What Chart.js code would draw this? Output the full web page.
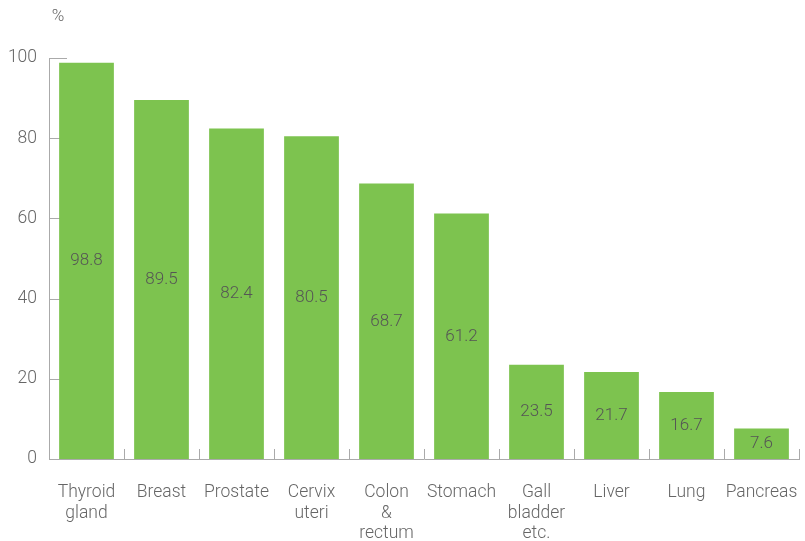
<!DOCTYPE html>
<html>
<head>
<meta charset="utf-8">
<script src="https://cdn.jsdelivr.net/npm/chart.js@4.4.1/dist/chart.umd.min.js"></script>
<style>
  html, body { margin: 0; padding: 0; background: #fff; }
  #wrap { width: 805px; height: 541px; }
</style>
</head>
<body>
<div id="wrap"><canvas id="grafica"></canvas></div>
<script>
const categorias = [
    ['Thyroid', 'gland'], 'Breast', 'Prostate', ['Cervix', 'uteri'], ['Colon', '&', 'rectum'],
    'Stomach', ['Gall', 'bladder', 'etc.'], 'Liver', 'Lung', 'Pancreas'
];
const valores = [98.8, 89.5, 82.4, 80.5, 68.7, 61.2, 23.5, 21.7, 16.7, 7.6];
const etiquetas = ['98.8', '89.5', '82.4', '80.5', '68.7', '61.2', '23.5', '21.7', '16.7', '7.6'];
const ticksY = [0, 20, 40, 60, 80, 100];

const fuente = 'Roboto, "Liberation Sans", sans-serif';
const gris = '#aaaaaa';

// ticks cortos hacia dentro, etiquetas en las barras y el "%"
const extras = {
    id: 'extras',
    beforeDatasetsDraw(chart) {
        const ctx = chart.ctx;
        const x = chart.scales.x, y = chart.scales.y;
        ctx.save();
        ctx.strokeStyle = gris;
        ctx.lineWidth = 1;
        ctx.beginPath();
        ticksY.forEach(v => {
            const py = Math.round(y.getPixelForValue(v)) + 0.5;
            ctx.moveTo(x.left, py);
            ctx.lineTo(x.left + 18, py);
        });
        for (let i = 1; i <= categorias.length; i++) {
            const px = Math.round((x.getPixelForValue(i - 1) + x.getPixelForValue(i)) / 2) + 0.5;
            ctx.moveTo(px, y.bottom);
            ctx.lineTo(px, y.bottom - 10);
        }
        ctx.stroke();
        ctx.restore();
    },
    afterDatasetsDraw(chart) {
        const ctx = chart.ctx;
        const meta = chart.getDatasetMeta(0);
        ctx.save();
        ctx.font = '300 17px ' + fuente;
        ctx.fillStyle = '#555555';
        ctx.textAlign = 'center';
        ctx.textBaseline = 'middle';
        meta.data.forEach((bar, i) => {
            ctx.fillText(etiquetas[i], bar.x, (bar.y + bar.base) / 2);
        });
        ctx.fillStyle = '#666666';
        ctx.fillText('%', chart.scales.x.left + 9, 17);
        ctx.restore();
    }
};

new Chart(document.getElementById('grafica').getContext('2d'), {
    type: 'bar',
    data: {
        labels: categorias,
        datasets: [{
            data: valores,
            backgroundColor: '#7dc34f',
            borderWidth: 0,
            barPercentage: 0.73,
            categoryPercentage: 1
        }]
    },
    options: {
        responsive: true,
        maintainAspectRatio: false,
        animation: false,
        layout: { padding: { top: 58, right: 6, left: 0, bottom: 0 } },
        plugins: { legend: { display: false }, tooltip: { enabled: false } },
        scales: {
            x: {
                grid: { display: false, drawTicks: false },
                border: { color: gris, width: 1 },
                ticks: {
                    autoSkip: false, maxRotation: 0, padding: 24,
                    color: '#666666', font: { family: fuente, size: 17.5, weight: '300', lineHeight: 1.15 }
                },
                afterFit(scale) {
                    scale.height = 82;
                    scale.paddingLeft = 0;
                    scale.paddingRight = 0;
                }
            },
            y: {
                min: 0, max: 100,
                grid: { display: false, drawTicks: false },
                border: { color: gris, width: 1 },
                ticks: {
                    stepSize: 20, padding: 12,
                    color: '#666666', font: { family: fuente, size: 17.5, weight: '300' }
                },
                afterFit(scale) {
                    scale.width = 49;
                    scale.paddingTop = 0;
                    scale.paddingBottom = 0;
                }
            }
        }
    },
    plugins: [extras]
});
</script>
</body>
</html>
